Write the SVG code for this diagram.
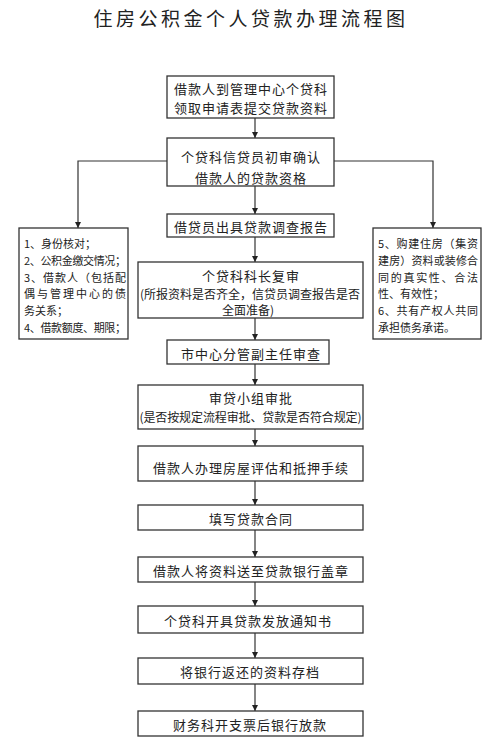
<svg xmlns="http://www.w3.org/2000/svg" width="500" height="741" viewBox="0 0 500 741">
<defs>
<style>
text{font-family:"Noto Sans CJK SC","Noto Sans",sans-serif;fill:#222;}
.box{fill:#fff;stroke:#333;stroke-width:1.3;}
.t{font-size:13px;letter-spacing:1px;text-anchor:middle;dominant-baseline:central;}
.s{font-size:12px;text-anchor:middle;dominant-baseline:central;}
.side{font-size:11px;dominant-baseline:central;}
.ln{fill:none;stroke:#333;stroke-width:1.2;}
</style>
<marker id="ah" viewBox="0 0 10 10" refX="10" refY="5" markerWidth="6" markerHeight="7" markerUnits="userSpaceOnUse" orient="auto">
<path d="M0,0 L10,5 L0,10 z" fill="#222"/>
</marker>
</defs>
<rect width="500" height="741" fill="#fff"/>
<text x="251" y="17" font-size="19" letter-spacing="3.5" text-anchor="middle" dominant-baseline="central">住房公积金个人贷款办理流程图</text>

<g id="connectors">
<path class="ln" marker-end="url(#ah)" d="M255,118 V138"/>
<path class="ln" marker-end="url(#ah)" d="M255,186 V214"/>
<path class="ln" marker-end="url(#ah)" d="M167,161 H78 V228"/>
<path class="ln" marker-end="url(#ah)" d="M334,161 H433 V228"/>
<path class="ln" marker-end="url(#ah)" d="M255,237 V262"/>
<path class="ln" marker-end="url(#ah)" d="M255,318 V340"/>
<path class="ln" marker-end="url(#ah)" d="M255,364 V385"/>
<path class="ln" marker-end="url(#ah)" d="M255,429 V446"/>
<path class="ln" marker-end="url(#ah)" d="M255,481 V505"/>
<path class="ln" marker-end="url(#ah)" d="M255,530 V557"/>
<path class="ln" marker-end="url(#ah)" d="M255,582 V606"/>
<path class="ln" marker-end="url(#ah)" d="M255,633 V658"/>
<path class="ln" marker-end="url(#ah)" d="M255,684 V711"/>
</g>

<g id="n1"><rect class="box" x="167" y="76" width="167" height="42"/>
<text class="t" x="251" y="88">借款人到管理中心个贷科</text>
<text class="t" x="251" y="107">领取申请表提交贷款资料</text></g>

<g id="n2"><rect class="box" x="167" y="138" width="167" height="48"/>
<text class="t" x="251" y="156">个贷科信贷员初审确认</text>
<text class="t" x="251" y="177">借款人的贷款资格</text></g>

<g id="n3"><rect class="box" x="167" y="214" width="167" height="23"/>
<text class="t" x="251" y="226">借贷员出具贷款调查报告</text></g>

<g id="nL"><rect class="box" x="19" y="228" width="109" height="111"/>
<text class="side" x="24" y="243">1、身份核对；</text>
<text class="side" x="24" y="260" textLength="102" lengthAdjust="spacing">2、公积金缴交情况；</text>
<text class="side" x="24" y="277" textLength="102" lengthAdjust="spacing">3、借款人（包括配</text>
<text class="side" x="24" y="293" textLength="102" lengthAdjust="spacing">偶与管理中心的债</text>
<text class="side" x="24" y="310">务关系；</text>
<text class="side" x="24" y="327" textLength="102" lengthAdjust="spacing">4、借款额度、期限；</text></g>

<g id="nR"><rect class="box" x="373" y="228" width="108" height="111"/>
<text class="side" x="378" y="243" textLength="100" lengthAdjust="spacing">5、购建住房（集资</text>
<text class="side" x="378" y="260" textLength="100" lengthAdjust="spacing">建房）资料或装修合</text>
<text class="side" x="378" y="277" textLength="100" lengthAdjust="spacing">同的真实性、合法</text>
<text class="side" x="378" y="293">性、有效性；</text>
<text class="side" x="378" y="310" textLength="100" lengthAdjust="spacing">6、共有产权人共同</text>
<text class="side" x="378" y="327">承担债务承诺。</text></g>

<g id="n4"><rect class="box" x="138" y="262" width="225" height="56"/>
<text class="t" x="251" y="275">个贷科科长复审</text>
<text class="s" x="250" y="293" textLength="220" lengthAdjust="spacing">(所报资料是否齐全，信贷员调查报告是否</text>
<text class="s" x="248" y="309">全面准备)</text></g>

<g id="n5"><rect class="box" x="167" y="340" width="162" height="24"/>
<text class="t" x="251" y="353">市中心分管副主任审查</text></g>

<g id="n6"><rect class="box" x="138" y="385" width="225" height="44"/>
<text class="t" x="251" y="397">审贷小组审批</text>
<text class="s" x="250.5" y="416" textLength="222" lengthAdjust="spacing">(是否按规定流程审批、贷款是否符合规定)</text></g>

<g id="n7"><rect class="box" x="138" y="446" width="225" height="35"/>
<text class="t" x="251" y="467">借款人办理房屋评估和抵押手续</text></g>

<g id="n8"><rect class="box" x="138" y="505" width="225" height="25"/>
<text class="t" x="251" y="518">填写贷款合同</text></g>

<g id="n9"><rect class="box" x="138" y="557" width="225" height="25"/>
<text class="t" x="251" y="570">借款人将资料送至贷款银行盖章</text></g>

<g id="n10"><rect class="box" x="138" y="606" width="225" height="27"/>
<text class="t" x="248" y="620">个贷科开具贷款发放通知书</text></g>

<g id="n11"><rect class="box" x="138" y="658" width="225" height="26"/>
<text class="t" x="250" y="671">将银行返还的资料存档</text></g>

<g id="n12"><rect class="box" x="138" y="711" width="225" height="25"/>
<text class="t" x="250" y="724">财务科开支票后银行放款</text></g>
</svg>
